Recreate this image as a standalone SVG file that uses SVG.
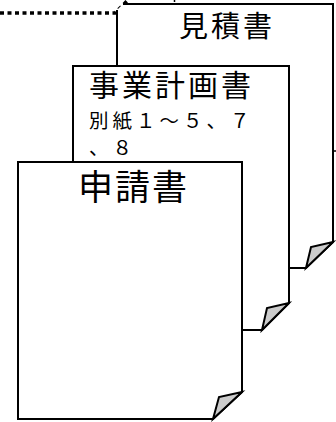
<svg xmlns="http://www.w3.org/2000/svg" width="336" height="422" viewBox="0 0 336 422">
<style>
.page{fill:#fff;stroke:#000;stroke-width:2;stroke-linejoin:miter}
.curl{fill:#ccc;stroke:#000;stroke-width:2;stroke-linejoin:miter}
.t{font-family:"Noto Sans CJK JP","Noto Sans",sans-serif;fill:#000}
.dot{fill:none;stroke:#000;stroke-width:3.5;stroke-dasharray:4 3.5}
</style>
<g id="connectors">
<polyline class="dot" points="0,13 115,13 128,0"/>
<line x1="174.5" y1="0" x2="174.5" y2="2" stroke="#000" stroke-width="1.5"/>
<line x1="334" y1="151" x2="336" y2="151" stroke="#000" stroke-width="1.5"/>
</g>
<g id="mitsumorisho">
<path class="page" d="M123,4 H333 V242 L306,268 H117 V10"/>
<path class="curl" d="M333,242 L311,247 L306,268 Z"/>
<text class="t" x="179" y="37" font-size="29" letter-spacing="3">見積書</text>
</g>
<g id="jigyoukeikakusho">
<path class="page" d="M73,66 H289 V303 L262,330 H73 Z"/>
<path class="curl" d="M289,303 L267,308 L262,330 Z"/>
<text class="t" x="89" y="96" font-size="30" letter-spacing="3">事業計画書</text>
<text class="t" x="89" y="128" font-size="19.5" letter-spacing="4">別紙１～５、７</text>
<text class="t" x="89" y="155" font-size="19.5" letter-spacing="4">、８</text>
</g>
<g id="shinseisho">
<path class="page" d="M18,162 H242 V392 L213,419 H18 Z"/>
<path class="curl" d="M242,392 L219,397 L213,419 Z"/>
<text class="t" x="78" y="200" font-size="35" letter-spacing="2">申請書</text>
</g>
</svg>
